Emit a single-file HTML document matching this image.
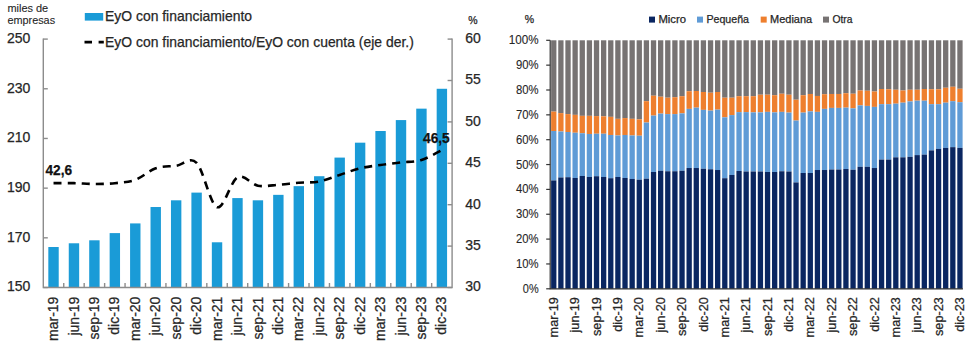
<!DOCTYPE html><html><head><meta charset="utf-8"><style>html,body{margin:0;padding:0;background:#fff;}svg{display:block;}text{font-family:"Liberation Sans",sans-serif;fill:#262626;stroke:#262626;stroke-width:0.25px;}</style></head><body>
<svg width="973" height="347" viewBox="0 0 973 347">
<rect width="973" height="347" fill="#fff"/>
<rect x="48.32" y="247.01" width="10.4" height="40.49" fill="#1a9bd7"/>
<rect x="68.76" y="243.28" width="10.4" height="44.22" fill="#1a9bd7"/>
<rect x="89.20" y="240.30" width="10.4" height="47.20" fill="#1a9bd7"/>
<rect x="109.64" y="233.10" width="10.4" height="54.40" fill="#1a9bd7"/>
<rect x="130.08" y="223.41" width="10.4" height="64.09" fill="#1a9bd7"/>
<rect x="150.52" y="207.02" width="10.4" height="80.48" fill="#1a9bd7"/>
<rect x="170.96" y="200.31" width="10.4" height="87.19" fill="#1a9bd7"/>
<rect x="191.40" y="192.61" width="10.4" height="94.89" fill="#1a9bd7"/>
<rect x="211.84" y="242.29" width="10.4" height="45.21" fill="#1a9bd7"/>
<rect x="232.28" y="198.08" width="10.4" height="89.42" fill="#1a9bd7"/>
<rect x="252.72" y="200.31" width="10.4" height="87.19" fill="#1a9bd7"/>
<rect x="273.16" y="194.85" width="10.4" height="92.65" fill="#1a9bd7"/>
<rect x="293.60" y="186.15" width="10.4" height="101.35" fill="#1a9bd7"/>
<rect x="314.04" y="176.22" width="10.4" height="111.28" fill="#1a9bd7"/>
<rect x="334.48" y="157.59" width="10.4" height="129.91" fill="#1a9bd7"/>
<rect x="354.92" y="142.68" width="10.4" height="144.82" fill="#1a9bd7"/>
<rect x="375.36" y="131.01" width="10.4" height="156.49" fill="#1a9bd7"/>
<rect x="395.80" y="120.08" width="10.4" height="167.42" fill="#1a9bd7"/>
<rect x="416.24" y="108.65" width="10.4" height="178.85" fill="#1a9bd7"/>
<rect x="436.68" y="88.78" width="10.4" height="198.72" fill="#1a9bd7"/>
<path d="M43.3 38.6V287.5H452.1V38.6" fill="none" stroke="#8c8c8c" stroke-width="1.4"/>
<path d="M43.3 39.10H47.8" stroke="#8c8c8c" stroke-width="1.4"/>
<path d="M43.3 88.78H47.8" stroke="#8c8c8c" stroke-width="1.4"/>
<path d="M43.3 138.46H47.8" stroke="#8c8c8c" stroke-width="1.4"/>
<path d="M43.3 188.14H47.8" stroke="#8c8c8c" stroke-width="1.4"/>
<path d="M43.3 237.82H47.8" stroke="#8c8c8c" stroke-width="1.4"/>
<path d="M43.3 287.50H47.8" stroke="#8c8c8c" stroke-width="1.4"/>
<path d="M452.1 39.10H447.6" stroke="#8c8c8c" stroke-width="1.4"/>
<path d="M452.1 80.50H447.6" stroke="#8c8c8c" stroke-width="1.4"/>
<path d="M452.1 121.90H447.6" stroke="#8c8c8c" stroke-width="1.4"/>
<path d="M452.1 163.30H447.6" stroke="#8c8c8c" stroke-width="1.4"/>
<path d="M452.1 204.70H447.6" stroke="#8c8c8c" stroke-width="1.4"/>
<path d="M452.1 246.10H447.6" stroke="#8c8c8c" stroke-width="1.4"/>
<path d="M452.1 287.50H447.6" stroke="#8c8c8c" stroke-width="1.4"/>
<path d="M63.74 287.5V283.0" stroke="#8c8c8c" stroke-width="1.4"/>
<path d="M84.18 287.5V283.0" stroke="#8c8c8c" stroke-width="1.4"/>
<path d="M104.62 287.5V283.0" stroke="#8c8c8c" stroke-width="1.4"/>
<path d="M125.06 287.5V283.0" stroke="#8c8c8c" stroke-width="1.4"/>
<path d="M145.50 287.5V283.0" stroke="#8c8c8c" stroke-width="1.4"/>
<path d="M165.94 287.5V283.0" stroke="#8c8c8c" stroke-width="1.4"/>
<path d="M186.38 287.5V283.0" stroke="#8c8c8c" stroke-width="1.4"/>
<path d="M206.82 287.5V283.0" stroke="#8c8c8c" stroke-width="1.4"/>
<path d="M227.26 287.5V283.0" stroke="#8c8c8c" stroke-width="1.4"/>
<path d="M247.70 287.5V283.0" stroke="#8c8c8c" stroke-width="1.4"/>
<path d="M268.14 287.5V283.0" stroke="#8c8c8c" stroke-width="1.4"/>
<path d="M288.58 287.5V283.0" stroke="#8c8c8c" stroke-width="1.4"/>
<path d="M309.02 287.5V283.0" stroke="#8c8c8c" stroke-width="1.4"/>
<path d="M329.46 287.5V283.0" stroke="#8c8c8c" stroke-width="1.4"/>
<path d="M349.90 287.5V283.0" stroke="#8c8c8c" stroke-width="1.4"/>
<path d="M370.34 287.5V283.0" stroke="#8c8c8c" stroke-width="1.4"/>
<path d="M390.78 287.5V283.0" stroke="#8c8c8c" stroke-width="1.4"/>
<path d="M411.22 287.5V283.0" stroke="#8c8c8c" stroke-width="1.4"/>
<path d="M431.66 287.5V283.0" stroke="#8c8c8c" stroke-width="1.4"/>
<path d="M53.52 183.17 C56.93 183.17 67.15 183.03 73.96 183.17 C80.77 183.31 87.59 184.00 94.40 184.00 C101.21 184.00 108.03 183.86 114.84 183.17 C121.65 182.48 128.47 182.34 135.28 179.86 C142.09 177.38 148.91 170.61 155.72 168.27 C162.53 165.92 169.35 166.68 176.16 165.78 C182.97 164.89 189.79 155.99 196.60 162.89 C203.41 169.79 210.23 204.77 217.04 207.18 C223.85 209.60 230.67 180.96 237.48 177.38 C244.29 173.79 251.11 184.41 257.92 185.66 C264.73 186.90 271.55 185.31 278.36 184.83 C285.17 184.34 291.99 183.31 298.80 182.76 C305.61 182.21 312.43 182.83 319.24 181.52 C326.05 180.21 332.87 177.10 339.68 174.89 C346.49 172.68 353.31 169.92 360.12 168.27 C366.93 166.61 373.75 165.92 380.56 164.96 C387.37 163.99 394.19 163.30 401.00 162.47 C407.81 161.64 414.63 162.06 421.44 159.99 C428.25 157.92 438.47 151.71 441.88 150.05" fill="none" stroke="#000" stroke-width="2.6" stroke-dasharray="8.05 6.05" stroke-linecap="butt"/>
<text x="30.3" y="43.00" font-size="14.3" text-anchor="end" textLength="23.4" lengthAdjust="spacingAndGlyphs">250</text>
<text x="30.3" y="92.68" font-size="14.3" text-anchor="end" textLength="23.4" lengthAdjust="spacingAndGlyphs">230</text>
<text x="30.3" y="142.36" font-size="14.3" text-anchor="end" textLength="23.4" lengthAdjust="spacingAndGlyphs">210</text>
<text x="30.3" y="192.04" font-size="14.3" text-anchor="end" textLength="23.4" lengthAdjust="spacingAndGlyphs">190</text>
<text x="30.3" y="241.72" font-size="14.3" text-anchor="end" textLength="23.4" lengthAdjust="spacingAndGlyphs">170</text>
<text x="30.3" y="291.40" font-size="14.3" text-anchor="end" textLength="23.4" lengthAdjust="spacingAndGlyphs">150</text>
<text x="465.2" y="43.00" font-size="14.3" textLength="15.6" lengthAdjust="spacingAndGlyphs">60</text>
<text x="465.2" y="84.40" font-size="14.3" textLength="15.6" lengthAdjust="spacingAndGlyphs">55</text>
<text x="465.2" y="125.80" font-size="14.3" textLength="15.6" lengthAdjust="spacingAndGlyphs">50</text>
<text x="465.2" y="167.20" font-size="14.3" textLength="15.6" lengthAdjust="spacingAndGlyphs">45</text>
<text x="465.2" y="208.60" font-size="14.3" textLength="15.6" lengthAdjust="spacingAndGlyphs">40</text>
<text x="465.2" y="250.00" font-size="14.3" textLength="15.6" lengthAdjust="spacingAndGlyphs">35</text>
<text x="465.2" y="291.40" font-size="14.3" textLength="15.6" lengthAdjust="spacingAndGlyphs">30</text>
<text x="468.3" y="24.1" font-size="10.5">%</text>
<text x="7.4" y="11.5" font-size="10.4" textLength="40.8" lengthAdjust="spacingAndGlyphs" style="stroke-width:0.1px">miles de</text>
<text x="7.4" y="24.2" font-size="10.4" textLength="47.7" lengthAdjust="spacingAndGlyphs" style="stroke-width:0.1px">empresas</text>
<rect x="84.8" y="13" width="18.4" height="7.6" fill="#1a9bd7"/>
<text x="105.0" y="20.8" font-size="14.3" textLength="147.0" lengthAdjust="spacingAndGlyphs">EyO con financiamiento</text>
<path d="M84.5 42.1H92M98.6 42.1H103.8" stroke="#000" stroke-width="2.6"/>
<text x="105.0" y="46.7" font-size="14.3" textLength="308.8" lengthAdjust="spacingAndGlyphs">EyO con financiamiento/EyO con cuenta (eje der.)</text>
<text x="45.5" y="175.4" font-size="14.5" font-weight="bold" textLength="26.6" lengthAdjust="spacingAndGlyphs" style="fill:#111;stroke:#111">42,6</text>
<text x="423.1" y="143.0" font-size="14.5" font-weight="bold" textLength="26.6" lengthAdjust="spacingAndGlyphs" style="fill:#111;stroke:#111">46,5</text>
<text transform="translate(58.12 296.6) rotate(-90)" font-size="14" text-anchor="end">mar-19</text>
<text transform="translate(78.56 296.6) rotate(-90)" font-size="14" text-anchor="end">jun-19</text>
<text transform="translate(99.00 296.6) rotate(-90)" font-size="14" text-anchor="end">sep-19</text>
<text transform="translate(119.44 296.6) rotate(-90)" font-size="14" text-anchor="end">dic-19</text>
<text transform="translate(139.88 296.6) rotate(-90)" font-size="14" text-anchor="end">mar-20</text>
<text transform="translate(160.32 296.6) rotate(-90)" font-size="14" text-anchor="end">jun-20</text>
<text transform="translate(180.76 296.6) rotate(-90)" font-size="14" text-anchor="end">sep-20</text>
<text transform="translate(201.20 296.6) rotate(-90)" font-size="14" text-anchor="end">dic-20</text>
<text transform="translate(221.64 296.6) rotate(-90)" font-size="14" text-anchor="end">mar-21</text>
<text transform="translate(242.08 296.6) rotate(-90)" font-size="14" text-anchor="end">jun-21</text>
<text transform="translate(262.52 296.6) rotate(-90)" font-size="14" text-anchor="end">sep-21</text>
<text transform="translate(282.96 296.6) rotate(-90)" font-size="14" text-anchor="end">dic-21</text>
<text transform="translate(303.40 296.6) rotate(-90)" font-size="14" text-anchor="end">mar-22</text>
<text transform="translate(323.84 296.6) rotate(-90)" font-size="14" text-anchor="end">jun-22</text>
<text transform="translate(344.28 296.6) rotate(-90)" font-size="14" text-anchor="end">sep-22</text>
<text transform="translate(364.72 296.6) rotate(-90)" font-size="14" text-anchor="end">dic-22</text>
<text transform="translate(385.16 296.6) rotate(-90)" font-size="14" text-anchor="end">mar-23</text>
<text transform="translate(405.60 296.6) rotate(-90)" font-size="14" text-anchor="end">jun-23</text>
<text transform="translate(426.04 296.6) rotate(-90)" font-size="14" text-anchor="end">sep-23</text>
<text transform="translate(446.48 296.6) rotate(-90)" font-size="14" text-anchor="end">dic-23</text>
<rect x="551.11" y="40.3" width="5.3" height="71.32" fill="#777373"/>
<rect x="551.11" y="111.62" width="5.3" height="19.38" fill="#ee7f2e"/>
<rect x="551.11" y="131.00" width="5.3" height="49.45" fill="#5f9bd6"/>
<rect x="551.11" y="180.45" width="5.3" height="108.35" fill="#0a2661"/>
<rect x="558.24" y="40.3" width="5.3" height="72.81" fill="#777373"/>
<rect x="558.24" y="113.11" width="5.3" height="18.39" fill="#ee7f2e"/>
<rect x="558.24" y="131.50" width="5.3" height="45.97" fill="#5f9bd6"/>
<rect x="558.24" y="177.47" width="5.3" height="111.33" fill="#0a2661"/>
<rect x="565.37" y="40.3" width="5.3" height="73.80" fill="#777373"/>
<rect x="565.37" y="114.10" width="5.3" height="17.89" fill="#ee7f2e"/>
<rect x="565.37" y="132.00" width="5.3" height="45.23" fill="#5f9bd6"/>
<rect x="565.37" y="177.22" width="5.3" height="111.58" fill="#0a2661"/>
<rect x="572.49" y="40.3" width="5.3" height="74.55" fill="#777373"/>
<rect x="572.49" y="114.85" width="5.3" height="17.89" fill="#ee7f2e"/>
<rect x="572.49" y="132.74" width="5.3" height="45.23" fill="#5f9bd6"/>
<rect x="572.49" y="177.97" width="5.3" height="110.83" fill="#0a2661"/>
<rect x="579.62" y="40.3" width="5.3" height="75.54" fill="#777373"/>
<rect x="579.62" y="115.84" width="5.3" height="17.39" fill="#ee7f2e"/>
<rect x="579.62" y="133.24" width="5.3" height="42.74" fill="#5f9bd6"/>
<rect x="579.62" y="175.98" width="5.3" height="112.82" fill="#0a2661"/>
<rect x="586.74" y="40.3" width="5.3" height="75.54" fill="#777373"/>
<rect x="586.74" y="115.84" width="5.3" height="18.14" fill="#ee7f2e"/>
<rect x="586.74" y="133.98" width="5.3" height="42.99" fill="#5f9bd6"/>
<rect x="586.74" y="176.98" width="5.3" height="111.82" fill="#0a2661"/>
<rect x="593.87" y="40.3" width="5.3" height="75.79" fill="#777373"/>
<rect x="593.87" y="116.09" width="5.3" height="17.64" fill="#ee7f2e"/>
<rect x="593.87" y="133.74" width="5.3" height="42.49" fill="#5f9bd6"/>
<rect x="593.87" y="176.23" width="5.3" height="112.57" fill="#0a2661"/>
<rect x="601.00" y="40.3" width="5.3" height="76.04" fill="#777373"/>
<rect x="601.00" y="116.34" width="5.3" height="17.40" fill="#ee7f2e"/>
<rect x="601.00" y="133.74" width="5.3" height="43.24" fill="#5f9bd6"/>
<rect x="601.00" y="176.98" width="5.3" height="111.82" fill="#0a2661"/>
<rect x="608.12" y="40.3" width="5.3" height="76.54" fill="#777373"/>
<rect x="608.12" y="116.84" width="5.3" height="18.14" fill="#ee7f2e"/>
<rect x="608.12" y="134.98" width="5.3" height="43.24" fill="#5f9bd6"/>
<rect x="608.12" y="178.22" width="5.3" height="110.58" fill="#0a2661"/>
<rect x="615.25" y="40.3" width="5.3" height="78.53" fill="#777373"/>
<rect x="615.25" y="118.83" width="5.3" height="16.65" fill="#ee7f2e"/>
<rect x="615.25" y="135.48" width="5.3" height="41.50" fill="#5f9bd6"/>
<rect x="615.25" y="176.98" width="5.3" height="111.82" fill="#0a2661"/>
<rect x="622.37" y="40.3" width="5.3" height="77.78" fill="#777373"/>
<rect x="622.37" y="118.08" width="5.3" height="16.90" fill="#ee7f2e"/>
<rect x="622.37" y="134.98" width="5.3" height="42.99" fill="#5f9bd6"/>
<rect x="622.37" y="177.97" width="5.3" height="110.83" fill="#0a2661"/>
<rect x="629.50" y="40.3" width="5.3" height="78.53" fill="#777373"/>
<rect x="629.50" y="118.83" width="5.3" height="16.65" fill="#ee7f2e"/>
<rect x="629.50" y="135.48" width="5.3" height="43.49" fill="#5f9bd6"/>
<rect x="629.50" y="178.96" width="5.3" height="109.84" fill="#0a2661"/>
<rect x="636.63" y="40.3" width="5.3" height="79.02" fill="#777373"/>
<rect x="636.63" y="119.32" width="5.3" height="16.40" fill="#ee7f2e"/>
<rect x="636.63" y="135.72" width="5.3" height="43.98" fill="#5f9bd6"/>
<rect x="636.63" y="179.71" width="5.3" height="109.09" fill="#0a2661"/>
<rect x="643.75" y="40.3" width="5.3" height="60.88" fill="#777373"/>
<rect x="643.75" y="101.18" width="5.3" height="21.37" fill="#ee7f2e"/>
<rect x="643.75" y="122.55" width="5.3" height="56.16" fill="#5f9bd6"/>
<rect x="643.75" y="178.71" width="5.3" height="110.09" fill="#0a2661"/>
<rect x="650.88" y="40.3" width="5.3" height="55.42" fill="#777373"/>
<rect x="650.88" y="95.72" width="5.3" height="19.88" fill="#ee7f2e"/>
<rect x="650.88" y="115.60" width="5.3" height="56.41" fill="#5f9bd6"/>
<rect x="650.88" y="172.00" width="5.3" height="116.80" fill="#0a2661"/>
<rect x="658.00" y="40.3" width="5.3" height="56.41" fill="#777373"/>
<rect x="658.00" y="96.71" width="5.3" height="16.90" fill="#ee7f2e"/>
<rect x="658.00" y="113.61" width="5.3" height="57.16" fill="#5f9bd6"/>
<rect x="658.00" y="170.76" width="5.3" height="118.04" fill="#0a2661"/>
<rect x="665.13" y="40.3" width="5.3" height="57.40" fill="#777373"/>
<rect x="665.13" y="97.70" width="5.3" height="16.40" fill="#ee7f2e"/>
<rect x="665.13" y="114.10" width="5.3" height="57.15" fill="#5f9bd6"/>
<rect x="665.13" y="171.26" width="5.3" height="117.54" fill="#0a2661"/>
<rect x="672.26" y="40.3" width="5.3" height="56.91" fill="#777373"/>
<rect x="672.26" y="97.21" width="5.3" height="16.90" fill="#ee7f2e"/>
<rect x="672.26" y="114.10" width="5.3" height="57.15" fill="#5f9bd6"/>
<rect x="672.26" y="171.26" width="5.3" height="117.54" fill="#0a2661"/>
<rect x="679.38" y="40.3" width="5.3" height="55.91" fill="#777373"/>
<rect x="679.38" y="96.21" width="5.3" height="17.15" fill="#ee7f2e"/>
<rect x="679.38" y="113.36" width="5.3" height="57.40" fill="#5f9bd6"/>
<rect x="679.38" y="170.76" width="5.3" height="118.04" fill="#0a2661"/>
<rect x="686.51" y="40.3" width="5.3" height="50.94" fill="#777373"/>
<rect x="686.51" y="91.24" width="5.3" height="17.64" fill="#ee7f2e"/>
<rect x="686.51" y="108.89" width="5.3" height="59.14" fill="#5f9bd6"/>
<rect x="686.51" y="168.03" width="5.3" height="120.77" fill="#0a2661"/>
<rect x="693.63" y="40.3" width="5.3" height="50.69" fill="#777373"/>
<rect x="693.63" y="90.99" width="5.3" height="16.65" fill="#ee7f2e"/>
<rect x="693.63" y="107.64" width="5.3" height="60.39" fill="#5f9bd6"/>
<rect x="693.63" y="168.03" width="5.3" height="120.77" fill="#0a2661"/>
<rect x="700.76" y="40.3" width="5.3" height="51.69" fill="#777373"/>
<rect x="700.76" y="91.99" width="5.3" height="17.89" fill="#ee7f2e"/>
<rect x="700.76" y="109.88" width="5.3" height="58.89" fill="#5f9bd6"/>
<rect x="700.76" y="168.77" width="5.3" height="120.03" fill="#0a2661"/>
<rect x="707.89" y="40.3" width="5.3" height="52.43" fill="#777373"/>
<rect x="707.89" y="92.73" width="5.3" height="17.89" fill="#ee7f2e"/>
<rect x="707.89" y="110.63" width="5.3" height="58.65" fill="#5f9bd6"/>
<rect x="707.89" y="169.27" width="5.3" height="119.53" fill="#0a2661"/>
<rect x="715.01" y="40.3" width="5.3" height="51.69" fill="#777373"/>
<rect x="715.01" y="91.99" width="5.3" height="17.64" fill="#ee7f2e"/>
<rect x="715.01" y="109.63" width="5.3" height="60.39" fill="#5f9bd6"/>
<rect x="715.01" y="170.02" width="5.3" height="118.78" fill="#0a2661"/>
<rect x="722.14" y="40.3" width="5.3" height="57.40" fill="#777373"/>
<rect x="722.14" y="97.70" width="5.3" height="19.63" fill="#ee7f2e"/>
<rect x="722.14" y="117.34" width="5.3" height="60.88" fill="#5f9bd6"/>
<rect x="722.14" y="178.22" width="5.3" height="110.58" fill="#0a2661"/>
<rect x="729.26" y="40.3" width="5.3" height="57.40" fill="#777373"/>
<rect x="729.26" y="97.70" width="5.3" height="17.40" fill="#ee7f2e"/>
<rect x="729.26" y="115.10" width="5.3" height="59.89" fill="#5f9bd6"/>
<rect x="729.26" y="174.99" width="5.3" height="113.81" fill="#0a2661"/>
<rect x="736.39" y="40.3" width="5.3" height="55.91" fill="#777373"/>
<rect x="736.39" y="96.21" width="5.3" height="15.90" fill="#ee7f2e"/>
<rect x="736.39" y="112.12" width="5.3" height="58.89" fill="#5f9bd6"/>
<rect x="736.39" y="171.01" width="5.3" height="117.79" fill="#0a2661"/>
<rect x="743.52" y="40.3" width="5.3" height="55.91" fill="#777373"/>
<rect x="743.52" y="96.21" width="5.3" height="15.90" fill="#ee7f2e"/>
<rect x="743.52" y="112.12" width="5.3" height="59.39" fill="#5f9bd6"/>
<rect x="743.52" y="171.51" width="5.3" height="117.29" fill="#0a2661"/>
<rect x="750.64" y="40.3" width="5.3" height="55.91" fill="#777373"/>
<rect x="750.64" y="96.21" width="5.3" height="16.15" fill="#ee7f2e"/>
<rect x="750.64" y="112.37" width="5.3" height="59.14" fill="#5f9bd6"/>
<rect x="750.64" y="171.51" width="5.3" height="117.29" fill="#0a2661"/>
<rect x="757.77" y="40.3" width="5.3" height="54.42" fill="#777373"/>
<rect x="757.77" y="94.72" width="5.3" height="17.64" fill="#ee7f2e"/>
<rect x="757.77" y="112.37" width="5.3" height="59.14" fill="#5f9bd6"/>
<rect x="757.77" y="171.51" width="5.3" height="117.29" fill="#0a2661"/>
<rect x="764.89" y="40.3" width="5.3" height="54.42" fill="#777373"/>
<rect x="764.89" y="94.72" width="5.3" height="17.15" fill="#ee7f2e"/>
<rect x="764.89" y="111.87" width="5.3" height="60.14" fill="#5f9bd6"/>
<rect x="764.89" y="172.00" width="5.3" height="116.80" fill="#0a2661"/>
<rect x="772.02" y="40.3" width="5.3" height="54.92" fill="#777373"/>
<rect x="772.02" y="95.22" width="5.3" height="17.15" fill="#ee7f2e"/>
<rect x="772.02" y="112.37" width="5.3" height="59.64" fill="#5f9bd6"/>
<rect x="772.02" y="172.00" width="5.3" height="116.80" fill="#0a2661"/>
<rect x="779.15" y="40.3" width="5.3" height="53.43" fill="#777373"/>
<rect x="779.15" y="93.73" width="5.3" height="18.14" fill="#ee7f2e"/>
<rect x="779.15" y="111.87" width="5.3" height="59.39" fill="#5f9bd6"/>
<rect x="779.15" y="171.26" width="5.3" height="117.54" fill="#0a2661"/>
<rect x="786.27" y="40.3" width="5.3" height="54.42" fill="#777373"/>
<rect x="786.27" y="94.72" width="5.3" height="17.89" fill="#ee7f2e"/>
<rect x="786.27" y="112.61" width="5.3" height="58.89" fill="#5f9bd6"/>
<rect x="786.27" y="171.51" width="5.3" height="117.29" fill="#0a2661"/>
<rect x="793.40" y="40.3" width="5.3" height="59.39" fill="#777373"/>
<rect x="793.40" y="99.69" width="5.3" height="20.87" fill="#ee7f2e"/>
<rect x="793.40" y="120.57" width="5.3" height="61.88" fill="#5f9bd6"/>
<rect x="793.40" y="182.44" width="5.3" height="106.36" fill="#0a2661"/>
<rect x="800.52" y="40.3" width="5.3" height="54.92" fill="#777373"/>
<rect x="800.52" y="95.22" width="5.3" height="17.39" fill="#ee7f2e"/>
<rect x="800.52" y="112.61" width="5.3" height="60.39" fill="#5f9bd6"/>
<rect x="800.52" y="173.00" width="5.3" height="115.80" fill="#0a2661"/>
<rect x="807.65" y="40.3" width="5.3" height="53.68" fill="#777373"/>
<rect x="807.65" y="93.98" width="5.3" height="17.40" fill="#ee7f2e"/>
<rect x="807.65" y="111.37" width="5.3" height="61.63" fill="#5f9bd6"/>
<rect x="807.65" y="173.00" width="5.3" height="115.80" fill="#0a2661"/>
<rect x="814.78" y="40.3" width="5.3" height="55.66" fill="#777373"/>
<rect x="814.78" y="95.96" width="5.3" height="15.90" fill="#ee7f2e"/>
<rect x="814.78" y="111.87" width="5.3" height="58.15" fill="#5f9bd6"/>
<rect x="814.78" y="170.02" width="5.3" height="118.78" fill="#0a2661"/>
<rect x="821.90" y="40.3" width="5.3" height="53.92" fill="#777373"/>
<rect x="821.90" y="94.22" width="5.3" height="14.66" fill="#ee7f2e"/>
<rect x="821.90" y="108.89" width="5.3" height="61.13" fill="#5f9bd6"/>
<rect x="821.90" y="170.02" width="5.3" height="118.78" fill="#0a2661"/>
<rect x="829.03" y="40.3" width="5.3" height="53.68" fill="#777373"/>
<rect x="829.03" y="93.98" width="5.3" height="13.92" fill="#ee7f2e"/>
<rect x="829.03" y="107.89" width="5.3" height="61.63" fill="#5f9bd6"/>
<rect x="829.03" y="169.52" width="5.3" height="119.28" fill="#0a2661"/>
<rect x="836.15" y="40.3" width="5.3" height="53.68" fill="#777373"/>
<rect x="836.15" y="93.98" width="5.3" height="13.92" fill="#ee7f2e"/>
<rect x="836.15" y="107.89" width="5.3" height="61.63" fill="#5f9bd6"/>
<rect x="836.15" y="169.52" width="5.3" height="119.28" fill="#0a2661"/>
<rect x="843.28" y="40.3" width="5.3" height="52.93" fill="#777373"/>
<rect x="843.28" y="93.23" width="5.3" height="14.41" fill="#ee7f2e"/>
<rect x="843.28" y="107.64" width="5.3" height="61.38" fill="#5f9bd6"/>
<rect x="843.28" y="169.02" width="5.3" height="119.78" fill="#0a2661"/>
<rect x="850.41" y="40.3" width="5.3" height="53.43" fill="#777373"/>
<rect x="850.41" y="93.73" width="5.3" height="14.66" fill="#ee7f2e"/>
<rect x="850.41" y="108.39" width="5.3" height="61.38" fill="#5f9bd6"/>
<rect x="850.41" y="169.77" width="5.3" height="119.03" fill="#0a2661"/>
<rect x="857.53" y="40.3" width="5.3" height="50.20" fill="#777373"/>
<rect x="857.53" y="90.50" width="5.3" height="14.91" fill="#ee7f2e"/>
<rect x="857.53" y="105.41" width="5.3" height="61.38" fill="#5f9bd6"/>
<rect x="857.53" y="166.79" width="5.3" height="122.01" fill="#0a2661"/>
<rect x="864.66" y="40.3" width="5.3" height="50.45" fill="#777373"/>
<rect x="864.66" y="90.75" width="5.3" height="15.16" fill="#ee7f2e"/>
<rect x="864.66" y="105.90" width="5.3" height="60.88" fill="#5f9bd6"/>
<rect x="864.66" y="166.79" width="5.3" height="122.01" fill="#0a2661"/>
<rect x="871.78" y="40.3" width="5.3" height="51.19" fill="#777373"/>
<rect x="871.78" y="91.49" width="5.3" height="15.41" fill="#ee7f2e"/>
<rect x="871.78" y="106.90" width="5.3" height="61.13" fill="#5f9bd6"/>
<rect x="871.78" y="168.03" width="5.3" height="120.77" fill="#0a2661"/>
<rect x="878.91" y="40.3" width="5.3" height="48.71" fill="#777373"/>
<rect x="878.91" y="89.01" width="5.3" height="15.16" fill="#ee7f2e"/>
<rect x="878.91" y="104.16" width="5.3" height="55.42" fill="#5f9bd6"/>
<rect x="878.91" y="159.58" width="5.3" height="129.22" fill="#0a2661"/>
<rect x="886.04" y="40.3" width="5.3" height="48.95" fill="#777373"/>
<rect x="886.04" y="89.25" width="5.3" height="14.91" fill="#ee7f2e"/>
<rect x="886.04" y="104.16" width="5.3" height="55.42" fill="#5f9bd6"/>
<rect x="886.04" y="159.58" width="5.3" height="129.22" fill="#0a2661"/>
<rect x="893.16" y="40.3" width="5.3" height="49.45" fill="#777373"/>
<rect x="893.16" y="89.75" width="5.3" height="13.92" fill="#ee7f2e"/>
<rect x="893.16" y="103.67" width="5.3" height="53.68" fill="#5f9bd6"/>
<rect x="893.16" y="157.34" width="5.3" height="131.46" fill="#0a2661"/>
<rect x="900.29" y="40.3" width="5.3" height="50.20" fill="#777373"/>
<rect x="900.29" y="90.50" width="5.3" height="12.18" fill="#ee7f2e"/>
<rect x="900.29" y="102.67" width="5.3" height="54.67" fill="#5f9bd6"/>
<rect x="900.29" y="157.34" width="5.3" height="131.46" fill="#0a2661"/>
<rect x="907.41" y="40.3" width="5.3" height="49.45" fill="#777373"/>
<rect x="907.41" y="89.75" width="5.3" height="11.68" fill="#ee7f2e"/>
<rect x="907.41" y="101.43" width="5.3" height="55.42" fill="#5f9bd6"/>
<rect x="907.41" y="156.85" width="5.3" height="131.95" fill="#0a2661"/>
<rect x="914.54" y="40.3" width="5.3" height="49.45" fill="#777373"/>
<rect x="914.54" y="89.75" width="5.3" height="10.93" fill="#ee7f2e"/>
<rect x="914.54" y="100.69" width="5.3" height="54.42" fill="#5f9bd6"/>
<rect x="914.54" y="155.11" width="5.3" height="133.69" fill="#0a2661"/>
<rect x="921.67" y="40.3" width="5.3" height="48.71" fill="#777373"/>
<rect x="921.67" y="89.01" width="5.3" height="11.68" fill="#ee7f2e"/>
<rect x="921.67" y="100.69" width="5.3" height="53.92" fill="#5f9bd6"/>
<rect x="921.67" y="154.61" width="5.3" height="134.19" fill="#0a2661"/>
<rect x="928.79" y="40.3" width="5.3" height="48.95" fill="#777373"/>
<rect x="928.79" y="89.25" width="5.3" height="14.91" fill="#ee7f2e"/>
<rect x="928.79" y="104.16" width="5.3" height="46.22" fill="#5f9bd6"/>
<rect x="928.79" y="150.39" width="5.3" height="138.41" fill="#0a2661"/>
<rect x="935.92" y="40.3" width="5.3" height="48.95" fill="#777373"/>
<rect x="935.92" y="89.25" width="5.3" height="14.91" fill="#ee7f2e"/>
<rect x="935.92" y="104.16" width="5.3" height="44.73" fill="#5f9bd6"/>
<rect x="935.92" y="148.89" width="5.3" height="139.91" fill="#0a2661"/>
<rect x="943.04" y="40.3" width="5.3" height="47.46" fill="#777373"/>
<rect x="943.04" y="87.76" width="5.3" height="14.91" fill="#ee7f2e"/>
<rect x="943.04" y="102.67" width="5.3" height="45.23" fill="#5f9bd6"/>
<rect x="943.04" y="147.90" width="5.3" height="140.90" fill="#0a2661"/>
<rect x="950.17" y="40.3" width="5.3" height="46.47" fill="#777373"/>
<rect x="950.17" y="86.77" width="5.3" height="14.41" fill="#ee7f2e"/>
<rect x="950.17" y="101.18" width="5.3" height="45.97" fill="#5f9bd6"/>
<rect x="950.17" y="147.16" width="5.3" height="141.65" fill="#0a2661"/>
<rect x="957.30" y="40.3" width="5.3" height="48.46" fill="#777373"/>
<rect x="957.30" y="88.76" width="5.3" height="13.42" fill="#ee7f2e"/>
<rect x="957.30" y="102.18" width="5.3" height="45.72" fill="#5f9bd6"/>
<rect x="957.30" y="147.90" width="5.3" height="140.90" fill="#0a2661"/>
<path d="M550.2 40.3V288.8H962.91" fill="none" stroke="#333" stroke-width="1.2"/>
<path d="M550.2 40.30H546.2" stroke="#333" stroke-width="1.2"/>
<text x="538.6" y="44.30" font-size="12" text-anchor="end" textLength="29.8" lengthAdjust="spacingAndGlyphs" style="stroke-width:0.1px">100%</text>
<path d="M550.2 65.15H546.2" stroke="#333" stroke-width="1.2"/>
<text x="538.6" y="69.15" font-size="12" text-anchor="end" textLength="22.6" lengthAdjust="spacingAndGlyphs" style="stroke-width:0.1px">90%</text>
<path d="M550.2 90.00H546.2" stroke="#333" stroke-width="1.2"/>
<text x="538.6" y="94.00" font-size="12" text-anchor="end" textLength="22.6" lengthAdjust="spacingAndGlyphs" style="stroke-width:0.1px">80%</text>
<path d="M550.2 114.85H546.2" stroke="#333" stroke-width="1.2"/>
<text x="538.6" y="118.85" font-size="12" text-anchor="end" textLength="22.6" lengthAdjust="spacingAndGlyphs" style="stroke-width:0.1px">70%</text>
<path d="M550.2 139.70H546.2" stroke="#333" stroke-width="1.2"/>
<text x="538.6" y="143.70" font-size="12" text-anchor="end" textLength="22.6" lengthAdjust="spacingAndGlyphs" style="stroke-width:0.1px">60%</text>
<path d="M550.2 164.55H546.2" stroke="#333" stroke-width="1.2"/>
<text x="538.6" y="168.55" font-size="12" text-anchor="end" textLength="22.6" lengthAdjust="spacingAndGlyphs" style="stroke-width:0.1px">50%</text>
<path d="M550.2 189.40H546.2" stroke="#333" stroke-width="1.2"/>
<text x="538.6" y="193.40" font-size="12" text-anchor="end" textLength="22.6" lengthAdjust="spacingAndGlyphs" style="stroke-width:0.1px">40%</text>
<path d="M550.2 214.25H546.2" stroke="#333" stroke-width="1.2"/>
<text x="538.6" y="218.25" font-size="12" text-anchor="end" textLength="22.6" lengthAdjust="spacingAndGlyphs" style="stroke-width:0.1px">30%</text>
<path d="M550.2 239.10H546.2" stroke="#333" stroke-width="1.2"/>
<text x="538.6" y="243.10" font-size="12" text-anchor="end" textLength="22.6" lengthAdjust="spacingAndGlyphs" style="stroke-width:0.1px">20%</text>
<path d="M550.2 263.95H546.2" stroke="#333" stroke-width="1.2"/>
<text x="538.6" y="267.95" font-size="12" text-anchor="end" textLength="22.6" lengthAdjust="spacingAndGlyphs" style="stroke-width:0.1px">10%</text>
<path d="M550.2 288.80H546.2" stroke="#333" stroke-width="1.2"/>
<text x="538.6" y="292.80" font-size="12" text-anchor="end" textLength="15.8" lengthAdjust="spacingAndGlyphs" style="stroke-width:0.1px">0%</text>
<text x="524.8" y="22.5" font-size="10.5">%</text>
<rect x="649" y="16.6" width="6" height="6" fill="#0a2661"/>
<text x="658.4" y="22.9" font-size="10.5" textLength="27.6" lengthAdjust="spacingAndGlyphs">Micro</text>
<rect x="697" y="16.6" width="6" height="6" fill="#5f9bd6"/>
<text x="706.4" y="22.9" font-size="10.5" textLength="42.6" lengthAdjust="spacingAndGlyphs">Pequeña</text>
<rect x="760.7" y="16.6" width="6" height="6" fill="#ee7f2e"/>
<text x="770.1" y="22.9" font-size="10.5" textLength="42" lengthAdjust="spacingAndGlyphs">Mediana</text>
<rect x="823" y="16.6" width="6" height="6" fill="#777373"/>
<text x="832.4" y="22.9" font-size="10.5" textLength="20" lengthAdjust="spacingAndGlyphs">Otra</text>
<text transform="translate(557.86 297.2) rotate(-90)" font-size="12.7" text-anchor="end">mar-19</text>
<text transform="translate(579.24 297.2) rotate(-90)" font-size="12.7" text-anchor="end">jun-19</text>
<text transform="translate(600.62 297.2) rotate(-90)" font-size="12.7" text-anchor="end">sep-19</text>
<text transform="translate(622.00 297.2) rotate(-90)" font-size="12.7" text-anchor="end">dic-19</text>
<text transform="translate(643.38 297.2) rotate(-90)" font-size="12.7" text-anchor="end">mar-20</text>
<text transform="translate(664.75 297.2) rotate(-90)" font-size="12.7" text-anchor="end">jun-20</text>
<text transform="translate(686.13 297.2) rotate(-90)" font-size="12.7" text-anchor="end">sep-20</text>
<text transform="translate(707.51 297.2) rotate(-90)" font-size="12.7" text-anchor="end">dic-20</text>
<text transform="translate(728.89 297.2) rotate(-90)" font-size="12.7" text-anchor="end">mar-21</text>
<text transform="translate(750.27 297.2) rotate(-90)" font-size="12.7" text-anchor="end">jun-21</text>
<text transform="translate(771.64 297.2) rotate(-90)" font-size="12.7" text-anchor="end">sep-21</text>
<text transform="translate(793.02 297.2) rotate(-90)" font-size="12.7" text-anchor="end">dic-21</text>
<text transform="translate(814.40 297.2) rotate(-90)" font-size="12.7" text-anchor="end">mar-22</text>
<text transform="translate(835.78 297.2) rotate(-90)" font-size="12.7" text-anchor="end">jun-22</text>
<text transform="translate(857.16 297.2) rotate(-90)" font-size="12.7" text-anchor="end">sep-22</text>
<text transform="translate(878.53 297.2) rotate(-90)" font-size="12.7" text-anchor="end">dic-22</text>
<text transform="translate(899.91 297.2) rotate(-90)" font-size="12.7" text-anchor="end">mar-23</text>
<text transform="translate(921.29 297.2) rotate(-90)" font-size="12.7" text-anchor="end">jun-23</text>
<text transform="translate(942.67 297.2) rotate(-90)" font-size="12.7" text-anchor="end">sep-23</text>
<text transform="translate(964.05 297.2) rotate(-90)" font-size="12.7" text-anchor="end">dic-23</text>
</svg></body></html>
